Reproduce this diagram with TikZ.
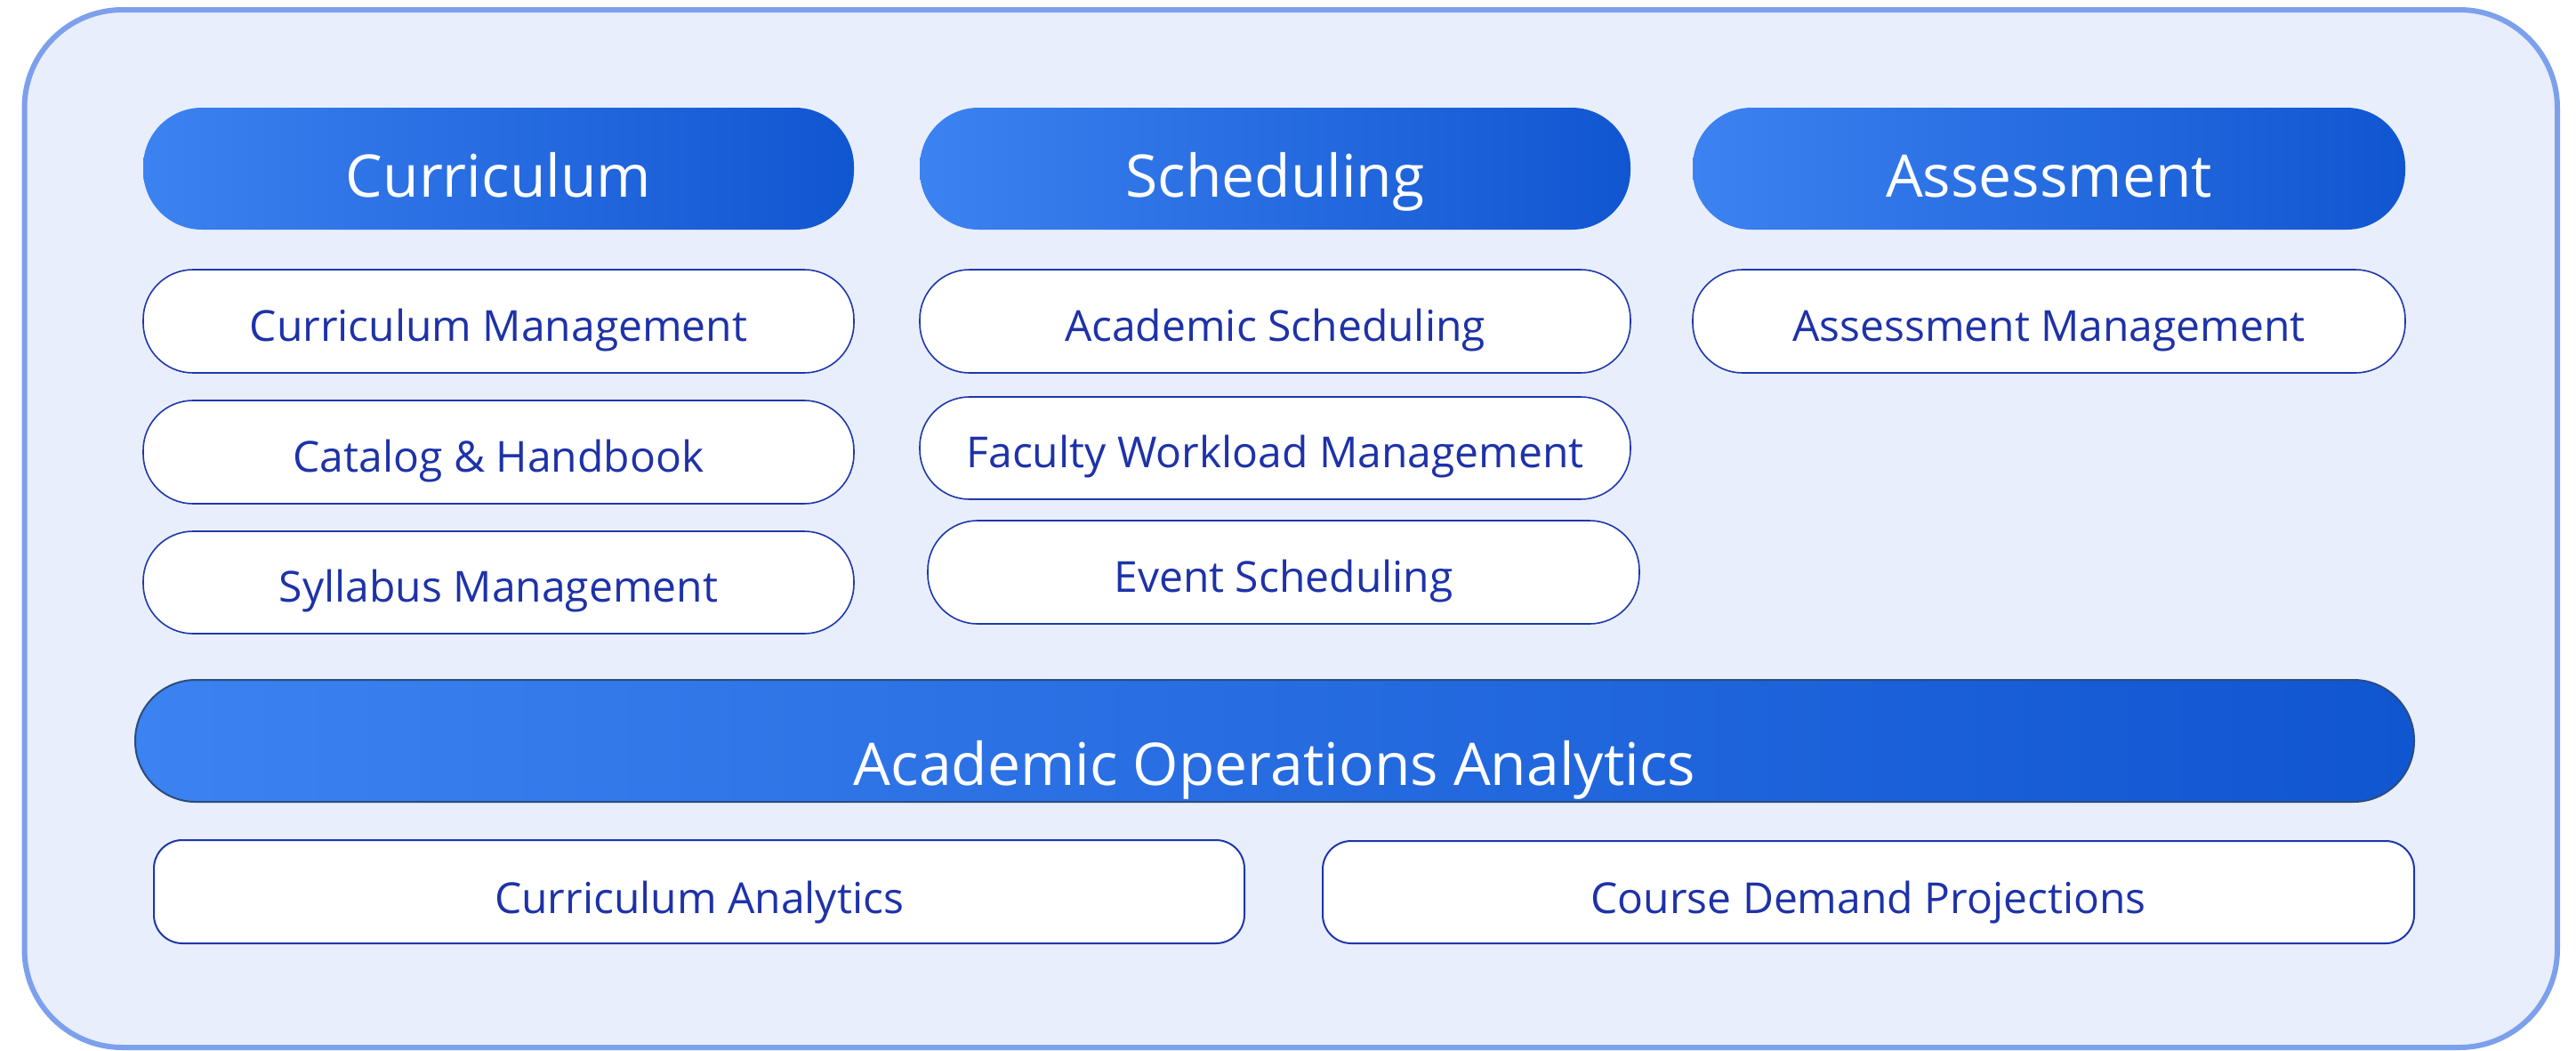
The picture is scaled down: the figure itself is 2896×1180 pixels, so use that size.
\documentclass[tikz,border=0pt]{standalone}
\usepackage{fontspec}
\setmainfont{Open Sans}
\definecolor{frameFill}{HTML}{E8EEFC}
\definecolor{frameLine}{HTML}{7CA0EC}
\definecolor{hdrL}{HTML}{3C82F0}
\definecolor{hdrR}{HTML}{1156D1}
\definecolor{itemB}{HTML}{1E38AC}
\definecolor{itemT}{HTML}{1E32A8}
\definecolor{aoaB}{HTML}{2B4C7E}
\newcommand{\placebox}[7]{\node[#2, minimum width={(#5-#3)*0.25pt}, minimum height={(#6-#4)*0.25pt}] (#1) at ({(#3+#5)/2},{(#4+#6)/2}) {#7};}
\begin{document}
\begin{tikzpicture}[x=0.25pt,y=-0.25pt,
  frame/.style={rectangle, rounded corners=27.5pt, fill=frameFill, draw=frameLine, line width=1.5pt, inner sep=0pt},
  hdr/.style={rectangle, rounded corners=16.5pt, left color=hdrL, right color=hdrR, text=white,
    font=\fontsize{16.5}{20}\selectfont, text height=16pt, text depth=0pt, inner sep=0pt},
  aoabox/.style={hdr, rounded corners=17pt, draw=aoaB, line width=0.5pt, text height=24.8pt},
  item/.style={rectangle, rounded corners=14pt, fill=white, draw=itemB, line width=0.4pt, text=itemT,
    font=\fontsize{12}{14}\selectfont, text height=11pt, text depth=0pt, inner sep=0pt},
  botitem/.style={item, rounded corners=8pt, line width=0.5pt, text height=12pt}
]
\useasboundingbox (0,0) rectangle (2896,1180);
\placebox{frame}{frame}{27.5}{11}{2875}{1177}{}
% column 1
\placebox{curr}{hdr}{161}{121}{960}{258}{Curriculum}
\placebox{currmgmt}{item}{161}{303}{960}{419}{Curriculum Management}
\placebox{catalog}{item}{161}{450}{960}{566}{Catalog \& Handbook}
\placebox{syllabus}{item}{161}{597}{960}{712}{Syllabus Management}
% column 2
\placebox{sched}{hdr}{1034}{121}{1833}{258}{Scheduling}
\placebox{acsched}{item}{1034}{303}{1833}{419}{Academic Scheduling}
\placebox{faculty}{item}{1034}{446}{1833}{561}{Faculty Workload Management}
\placebox{event}{item}{1043}{585}{1843}{701}{Event Scheduling}
% column 3
\placebox{assess}{hdr}{1903}{121}{2704}{258}{Assessment}
\placebox{assessmgmt}{item}{1903}{303}{2704}{419}{Assessment Management}
% analytics
\placebox{aoa}{aoabox}{152}{764}{2714}{901}{Academic Operations Analytics}
\placebox{curranalytics}{botitem}{173}{944}{1399}{1060}{Curriculum Analytics}
\placebox{demand}{botitem}{1487}{945}{2714}{1060}{Course Demand Projections}
\end{tikzpicture}
\end{document}
